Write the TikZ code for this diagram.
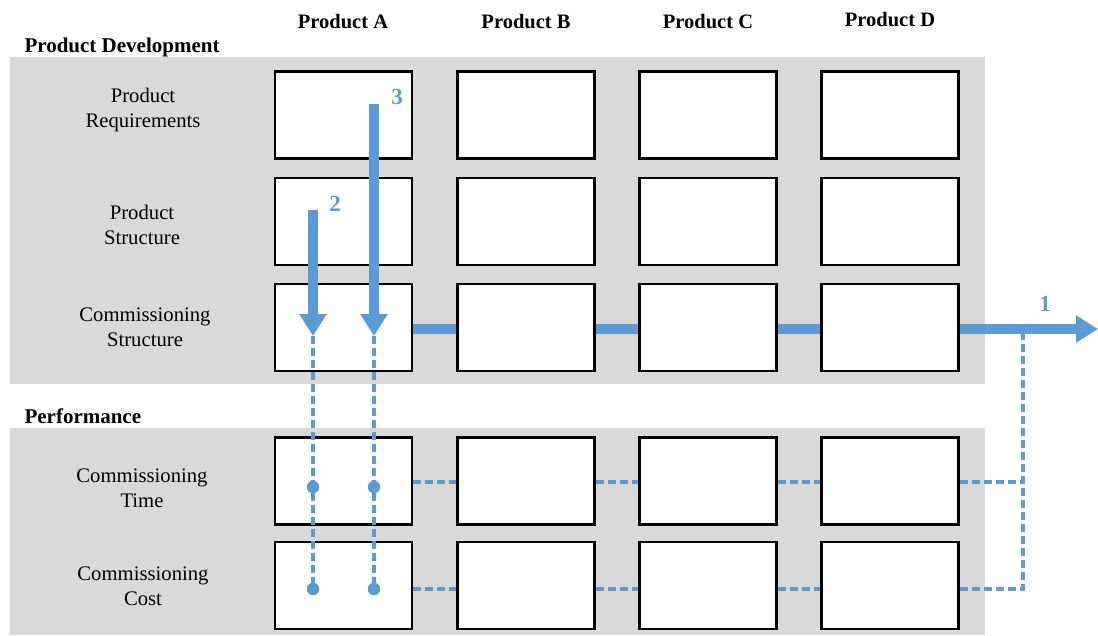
\documentclass[tikz,border=0pt]{standalone}
\usepackage{fontspec}
\setmainfont{Liberation Serif}
\usetikzlibrary{arrows.meta}
\definecolor{flowblue}{HTML}{5B9BD5}
\definecolor{bandgray}{HTML}{D9D9D9}
\tikzset{
  cell/.style={draw=black, line width=2.2pt, fill=white, minimum width=137pt, minimum height=87pt, inner sep=0pt},
  rowlabel/.style={align=center, font=\fontsize{20.7}{25}\selectfont},
  header/.style={font=\fontsize{20.5}{23}\selectfont\bfseries},
  section/.style={font=\fontsize{21}{23}\selectfont\bfseries},
  flow/.style={draw=flowblue, line width=10pt},
  flowarrow/.style={flow, -{Triangle[length=22pt,width=26pt]}},
  link/.style={draw=flowblue, line width=3.4pt, dash pattern=on 8pt off 4pt},
  num/.style={text=flowblue, font=\fontsize{23}{24}\selectfont\bfseries},
  dot/.style={circle, fill=flowblue, minimum size=12.5pt, inner sep=0pt}
}
\begin{document}
\begin{tikzpicture}[x=1pt, y=-1pt]
\useasboundingbox (0,0) rectangle (1098,635);
% background bands
\fill[bandgray] (10,57) rectangle (985,384);
\fill[bandgray] (10,428) rectangle (985,635);
% section titles
\node[section, anchor=west] (tdev) at (21,47) {Product Development};
\node[section, anchor=west] (tperf) at (21,416) {Performance};
% column headers
\node[header] (hA) at (343,22) {Product A};
\node[header] (hB) at (526,22) {Product B};
\node[header] (hC) at (708,22) {Product C};
\node[header] (hD) at (890,20) {Product D};
% row labels
\node[rowlabel] (l1) at (143,110) {Product\\Requirements};
\node[rowlabel] (l2) at (142,225) {Product\\Structure};
\node[rowlabel] (l3) at (145,327) {Commissioning\\Structure};
\node[rowlabel] (l4) at (142,488) {Commissioning\\Time};
\node[rowlabel] (l5) at (143,586) {Commissioning\\Cost};
% grid of cells
\foreach \c/\x in {A/343.5,B/526,C/708,D/890}{
  \foreach \r/\y in {1/115,2/221.5,3/327.5,4/481,5/585.5}{
    \node[cell] (\c\r) at (\x,\y) {};
  }
}
% thick flow through the commissioning structures
\coordinate (tip1) at (1098,329);
\draw[flow] (A3.east |- 0,329) -- (B3.west |- 0,329);
\draw[flow] (B3.east |- 0,329) -- (C3.west |- 0,329);
\draw[flow] (C3.east |- 0,329) -- (D3.west |- 0,329);
\draw[flowarrow] (D3.east |- 0,329) -- (tip1);
\node[num] (n1) at (1045,304) {1};
% vertical flows into product A
\coordinate (s2) at (313,210);
\coordinate (e2) at (313,336);
\coordinate (s3) at (374,104);
\coordinate (e3) at (374,336);
\draw[flowarrow] (s2) -- (e2);
\draw[flowarrow] (s3) -- (e3);
\node[num] (n2) at (335,204) {2};
\node[num] (n3) at (397,97) {3};
% performance dots
\node[dot] (d24) at (313,487) {};
\node[dot] (d25) at (313,589) {};
\node[dot] (d34) at (374,487) {};
\node[dot] (d35) at (374,589) {};
\draw[link] (e2) -- (d24) -- (d25);
\draw[link] (e3) -- (d34) -- (d35);
% dashed links between performance cells
\coordinate (j1) at (1023,329);
\coordinate (j4) at (1023,482);
\coordinate (j5) at (1023,589);
\draw[link] (A4.east |- 0,482) -- (B4.west |- 0,482);
\draw[link] (B4.east |- 0,482) -- (C4.west |- 0,482);
\draw[link] (C4.east |- 0,482) -- (D4.west |- 0,482);
\draw[link] (D4.east |- 0,482) -- (j4);
\draw[link] (A5.east |- 0,589) -- (B5.west |- 0,589);
\draw[link] (B5.east |- 0,589) -- (C5.west |- 0,589);
\draw[link] (C5.east |- 0,589) -- (D5.west |- 0,589);
\draw[link] (D5.east |- 0,589) -- (j5) -- (j1);
\end{tikzpicture}
\end{document}
